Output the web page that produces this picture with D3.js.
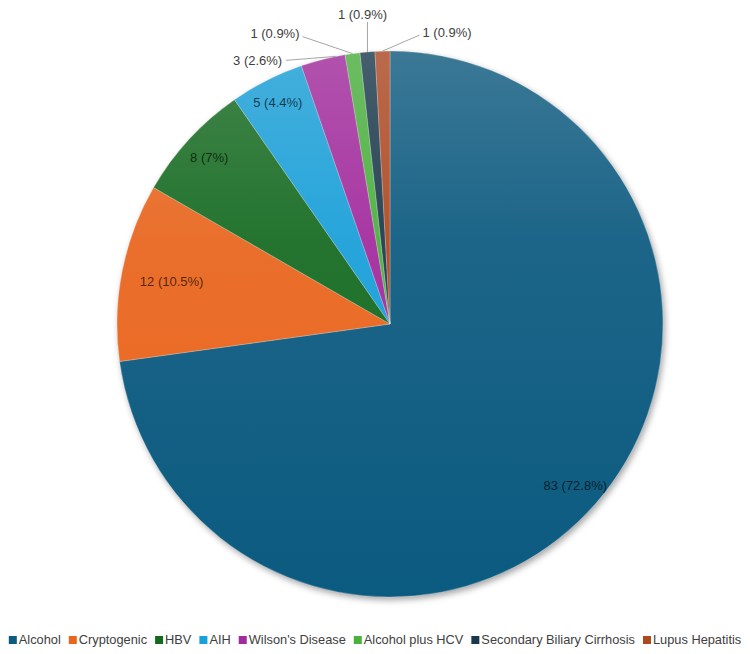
<!DOCTYPE html>
<html>
<head>
<meta charset="utf-8">
<script src="https://cdn.jsdelivr.net/npm/d3@7"></script>
<style>
  body { margin: 0; background: #fff; }
  text { font-family: "Liberation Sans", Arial, sans-serif; }
</style>
</head>
<body>
<div id="chart"></div>
<script>
// chart data
var categories = ["Alcohol", "Cryptogenic", "HBV", "AIH", "Wilson's Disease",
  "Alcohol plus HCV", "Secondary Biliary Cirrhosis", "Lupus Hepatitis"];
var counts = [83, 12, 8, 5, 3, 1, 1, 1];
var percentLabels = ["72.8%", "10.5%", "7%", "4.4%", "2.6%", "0.9%", "0.9%", "0.9%"];
var colors = ["#0b5a80", "#ea651c", "#136a1f", "#17a0da", "#a3299e", "#4ab13d", "#1a384b", "#ae4820"];

var svgWidth = 750;
var svgHeight = 654;
var cx = 390, cy = 324, radius = 273;

// inside labels: radius fraction; outside labels: text offset from leader anchor
var insideFrac = { 0: 0.9, 1: 0.815, 2: 0.9, 3: 0.91 };
var outside = {
  4: { frac: 0.8, dx: -54, dy: 4, anchor: "end", lx: -50, ly: 4 },
  5: { frac: 0.5, dx: -53, dy: -20, anchor: "end", lx: -50, ly: -17 },
  6: { frac: 0.5, dx: -5, dy: -37, anchor: "middle", lx: 0, ly: -30 },
  7: { frac: 0.5, dx: 40, dy: -19, anchor: "start", lx: 37, ly: -16 }
};

var data = categories.map((c, i) => ({ name: c, value: counts[i], pct: percentLabels[i], color: colors[i], i: i }));

var svg = d3.select("#chart")
  .append("svg")
  .attr("width", svgWidth)
  .attr("height", svgHeight);

var defs = svg.append("defs");

// soft shadow under the pie
var filter = defs.append("filter").attr("id", "shadow")
  .attr("color-interpolation-filters", "sRGB")
  .attr("x", "-10%").attr("y", "-10%").attr("width", "120%").attr("height", "120%");
filter.append("feDropShadow")
  .attr("dx", 2).attr("dy", 3).attr("stdDeviation", 3)
  .attr("flood-color", "#000").attr("flood-opacity", 0.35);

// vertical gradient per slice, lighter at the top (coords local to the pie group)
data.forEach(d => {
  var g = defs.append("linearGradient")
    .attr("id", "grad" + d.i)
    .attr("gradientUnits", "userSpaceOnUse")
    .attr("x1", 0).attr("x2", 0)
    .attr("y1", -radius).attr("y2", radius);
  g.append("stop").attr("offset", "0%").attr("stop-color", d3.interpolateRgb(d.color, "#e4e4e4")(0.22));
  g.append("stop").attr("offset", "35%").attr("stop-color", d3.interpolateRgb(d.color, "#e4e4e4")(0.08));
  g.append("stop").attr("offset", "100%").attr("stop-color", d.color);
});

var pie = d3.pie()
  .sort(null)
  .value(d => d.value);

var arc = d3.arc().innerRadius(0).outerRadius(radius);

var arcs = pie(data);

var chartGroup = svg.append("g")
  .attr("transform", `translate(${cx}, ${cy})`);

chartGroup.append("g")
  .attr("filter", "url(#shadow)")
  .selectAll("path")
  .data(arcs)
  .enter()
  .append("path")
  .attr("d", arc)
  .attr("fill", d => `url(#grad${d.data.i})`)
  .attr("stroke", "#ffffff")
  .attr("stroke-opacity", 0.4)
  .attr("stroke-width", 0.6);

function labelText(d) {
  return `${d.data.value} (${d.data.pct})`;
}

// inside labels
var inner = arcs.filter(d => insideFrac[d.data.i] !== undefined);
chartGroup.selectAll("text.inside")
  .data(inner)
  .enter()
  .append("text")
  .attr("class", "inside")
  .attr("transform", d => {
    var r = radius * insideFrac[d.data.i];
    var c = d3.arc().innerRadius(r).outerRadius(r).centroid(d);
    return `translate(${c[0]}, ${c[1]})`;
  })
  .attr("text-anchor", "middle")
  .attr("dy", "0.35em")
  .attr("font-size", 13)
  .attr("fill", "#000")
  .attr("fill-opacity", 0.68)
  .text(labelText);

// outside labels with leader lines
var outer = arcs.filter(d => outside[d.data.i] !== undefined);
outer.forEach(d => {
  var o = outside[d.data.i];
  var a = d.startAngle + (d.endAngle - d.startAngle) * o.frac;
  var ax = radius * Math.sin(a);
  var ay = -radius * Math.cos(a);
  chartGroup.append("line")
    .attr("x1", ax + o.lx).attr("y1", ay + o.ly)
    .attr("x2", ax).attr("y2", ay)
    .attr("stroke", "#a6a6a6")
    .attr("stroke-width", 1);
  chartGroup.append("text")
    .attr("x", ax + o.dx)
    .attr("y", ay + o.dy)
    .attr("dy", "0.35em")
    .attr("text-anchor", o.anchor)
    .attr("font-size", 13)
    .attr("fill", "#404040")
    .text(labelText(d));
});

// legend along the bottom
var legend = svg.append("g").attr("transform", "translate(0, 640)");
var items = legend.selectAll("g")
  .data(data)
  .enter()
  .append("g");

items.append("rect")
  .attr("width", 8).attr("height", 8)
  .attr("y", -4)
  .attr("fill", d => d.color);

items.append("text")
  .attr("x", 10)
  .attr("dy", "0.35em")
  .attr("font-size", 12.8)
  .attr("fill", "#404040")
  .text(d => d.name);

var xPos = 0;
var gap = 8;
items.each(function() {
  var w = 10 + d3.select(this).select("text").node().getComputedTextLength();
  d3.select(this).attr("transform", `translate(${xPos}, 0)`);
  xPos += w + gap;
});
var total = xPos - gap;
legend.attr("transform", `translate(${(svgWidth - total) / 2}, 640)`);
</script>
</body>
</html>
